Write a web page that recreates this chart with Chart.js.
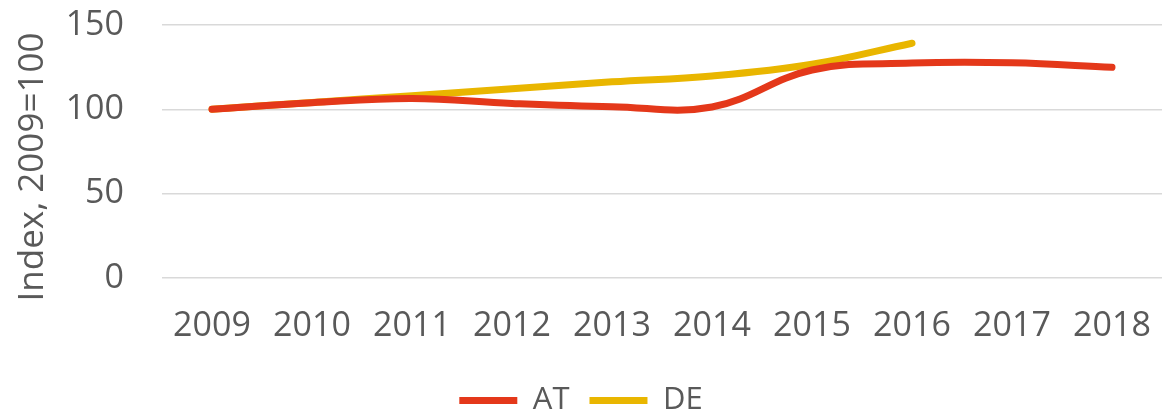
<!DOCTYPE html>
<html>
<head>
<meta charset="utf-8">
<script src="https://cdn.jsdelivr.net/npm/chart.js@4/dist/chart.umd.min.js"></script>
<style>
  html, body { margin: 0; padding: 0; background: #fff; }
  #wrap { width: 1162px; height: 410px; position: relative; }
</style>
</head>
<body>
<div id="wrap"><canvas id="c"></canvas></div>
<script>
const years = ['2009','2010','2011','2012','2013','2014','2015','2016','2017','2018'];
const atValues = [100, 103.9, 106.4, 103.5, 101.6, 101.4, 123.3, 127.4, 127.6, 124.9];
const deValues = [100, 104.1, 108.1, 112.2, 116.3, 119.8, 126.7, 139.2, null, null];
const yTicks = [0, 50, 100, 150];
const yTitle = 'Index, 2009=100';

const FONT = 'Open Sans';
const TXT = '#595959';

const yTitlePlugin = {
  id: 'yTitlePlugin',
  afterDraw(chart) {
    const ctx = chart.ctx;
    ctx.save();
    ctx.font = '35px "' + FONT + '"';
    ctx.fillStyle = TXT;
    ctx.textAlign = 'center';
    ctx.textBaseline = 'middle';
    ctx.translate(33, 167);
    ctx.rotate(-Math.PI / 2);
    ctx.fillText(yTitle, 0, 0);
    ctx.restore();
  }
};

new Chart(document.getElementById('c'), {
  type: 'line',
  data: {
    labels: years,
    datasets: [
      { label: 'AT', data: atValues, borderColor: '#E4381A', backgroundColor: '#E4381A',
        borderWidth: 7, pointRadius: 0, tension: 0.4, borderCapStyle: 'round', borderJoinStyle: 'round', fill: false },
      { label: 'DE', data: deValues, borderColor: '#E9B600', backgroundColor: '#E9B600',
        borderWidth: 7, pointRadius: 0, tension: 0.4, borderCapStyle: 'round', borderJoinStyle: 'round', fill: false }
    ]
  },
  options: {
    responsive: true,
    maintainAspectRatio: false,
    animation: false,
    layout: { padding: { left: 0, right: 0, top: 25, bottom: -16 } },
    plugins: {
      tooltip: { enabled: false },
      legend: {
        position: 'bottom',
        labels: {
          usePointStyle: true,
          pointStyle: 'line',
          pointStyleWidth: 58,
          boxHeight: 10,
          padding: 20,
          color: TXT,
          font: { family: FONT, size: 31 }
        }
      }
    },
    scales: {
      x: {
        offset: true,
        afterFit(scale) { scale.paddingLeft = 0; scale.paddingRight = 0; scale.height = 87; },
        grid: { display: false, drawTicks: false },
        border: { display: false },
        ticks: { color: TXT, font: { family: FONT, size: 34 }, padding: 28, maxRotation: 0 }
      },
      y: {
        min: 0, max: 150,
        afterBuildTicks(scale) { scale.ticks = yTicks.map(v => ({ value: v })); },
        afterFit(scale) { scale.width = 162; scale.paddingTop = 0; scale.paddingBottom = 0; },
        grid: { color: '#D9D9D9', lineWidth: 1.5, drawTicks: false },
        border: { display: false },
        ticks: { color: TXT, font: { family: FONT, size: 34 }, padding: 38 }
      }
    }
  },
  plugins: [yTitlePlugin]
});
</script>
</body>
</html>
